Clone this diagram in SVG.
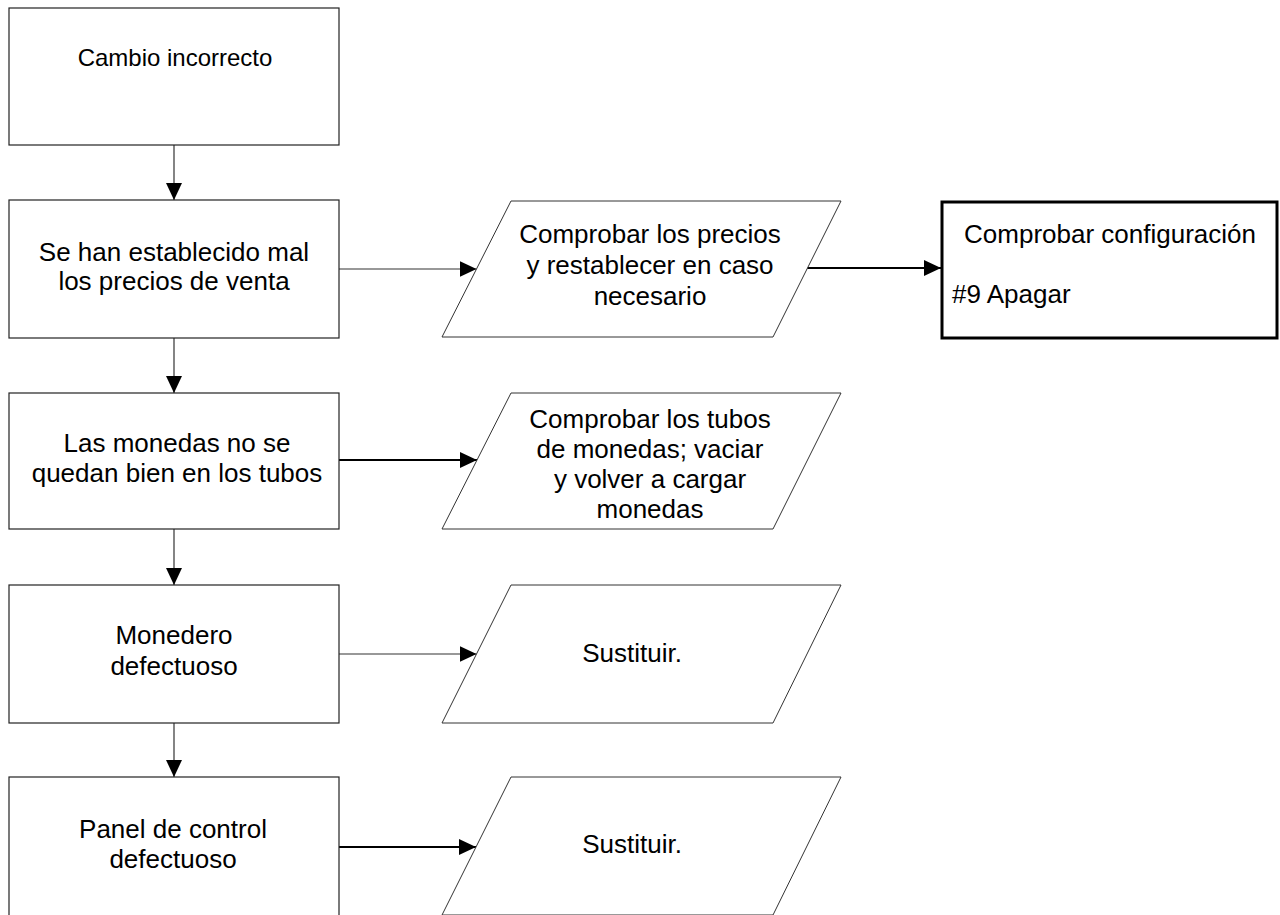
<svg xmlns="http://www.w3.org/2000/svg" width="1280" height="915" viewBox="0 0 1280 915">
  <style>
    .box { fill: #ffffff; stroke: #222222; stroke-width: 1.2; }
    .io { fill: #ffffff; stroke: #333333; stroke-width: 1; }
    .strong { fill: #ffffff; stroke: #000000; stroke-width: 3; }
    .link { fill: none; stroke: #333333; stroke-width: 1.2; }
    .link.bold { stroke: #000000; stroke-width: 2.2; }
    text { font-family: "Liberation Sans", Arial, sans-serif; font-size: 26px; fill: #000000; }
    .mid { text-anchor: middle; }
    .small { font-size: 24px; }
  </style>
  <defs>
    <marker id="arrow" markerUnits="userSpaceOnUse" markerWidth="18" markerHeight="16" refX="17" refY="8" orient="auto">
      <path d="M0,0 L17,8 L0,16 Z" fill="#000000"/>
    </marker>
  </defs>

  <!-- connectors -->
  <g id="connectors">
    <line class="link" x1="174" y1="145" x2="174" y2="200" marker-end="url(#arrow)"/>
    <line class="link" x1="174" y1="338" x2="174" y2="393" marker-end="url(#arrow)"/>
    <line class="link" x1="174" y1="529" x2="174" y2="585" marker-end="url(#arrow)"/>
    <line class="link" x1="174" y1="723" x2="174" y2="777" marker-end="url(#arrow)"/>
    <line class="link" x1="339" y1="269" x2="476.5" y2="269" marker-end="url(#arrow)"/>
    <line class="link bold" x1="339" y1="460" x2="477" y2="460" marker-end="url(#arrow)"/>
    <line class="link" x1="339" y1="654" x2="476.5" y2="654" marker-end="url(#arrow)"/>
    <line class="link bold" x1="339" y1="847" x2="476" y2="847" marker-end="url(#arrow)"/>
    <line class="link bold" x1="807" y1="268" x2="941" y2="268" marker-end="url(#arrow)"/>
  </g>

  <!-- cause boxes (left column) -->
  <g id="cambio-incorrecto">
    <rect class="box" x="9" y="8" width="330" height="137"/>
    <text class="mid small" x="175" y="65.5">Cambio incorrecto</text>
  </g>
  <g id="precios-mal">
    <rect class="box" x="9" y="200" width="330" height="138"/>
    <text class="mid"><tspan x="174" y="261">Se han establecido mal</tspan><tspan x="174" y="290">los precios de venta</tspan></text>
  </g>
  <g id="monedas-tubos">
    <rect class="box" x="9" y="393" width="330" height="136"/>
    <text class="mid"><tspan x="177" y="452">Las monedas no se</tspan><tspan x="177" y="482">quedan bien en los tubos</tspan></text>
  </g>
  <g id="monedero-defectuoso">
    <rect class="box" x="9" y="585" width="330" height="138"/>
    <text class="mid"><tspan x="174" y="644">Monedero</tspan><tspan x="174" y="675">defectuoso</tspan></text>
  </g>
  <g id="panel-defectuoso">
    <rect class="box" x="9" y="777" width="330" height="140"/>
    <text class="mid"><tspan x="173" y="838">Panel de control</tspan><tspan x="173" y="868">defectuoso</tspan></text>
  </g>

  <!-- remedies (parallelograms) -->
  <g id="comprobar-precios">
    <polygon class="io" points="511,201 841,201 773,337 442,337"/>
    <text class="mid"><tspan x="650" y="243">Comprobar los precios</tspan><tspan x="650" y="274">y restablecer en caso</tspan><tspan x="650" y="305">necesario</tspan></text>
  </g>
  <g id="comprobar-tubos">
    <polygon class="io" points="511,393 841,393 773,529 442,529"/>
    <text class="mid"><tspan x="650" y="428">Comprobar los tubos</tspan><tspan x="650" y="458">de monedas; vaciar</tspan><tspan x="650" y="488">y volver a cargar</tspan><tspan x="650" y="518">monedas</tspan></text>
  </g>
  <g id="sustituir-monedero">
    <polygon class="io" points="511,585 841,585 773,723 442,723"/>
    <text class="mid" x="632" y="661.5">Sustituir.</text>
  </g>
  <g id="sustituir-panel">
    <polygon class="io" points="511,777 841,777 773,915 442,915"/>
    <text class="mid" x="632" y="853">Sustituir.</text>
  </g>

  <!-- configuration check -->
  <g id="comprobar-configuracion">
    <rect class="strong" x="942" y="202" width="335" height="136"/>
    <text class="mid" x="1110" y="243">Comprobar configuración</text>
    <text x="952" y="303">#9 Apagar</text>
  </g>
</svg>
